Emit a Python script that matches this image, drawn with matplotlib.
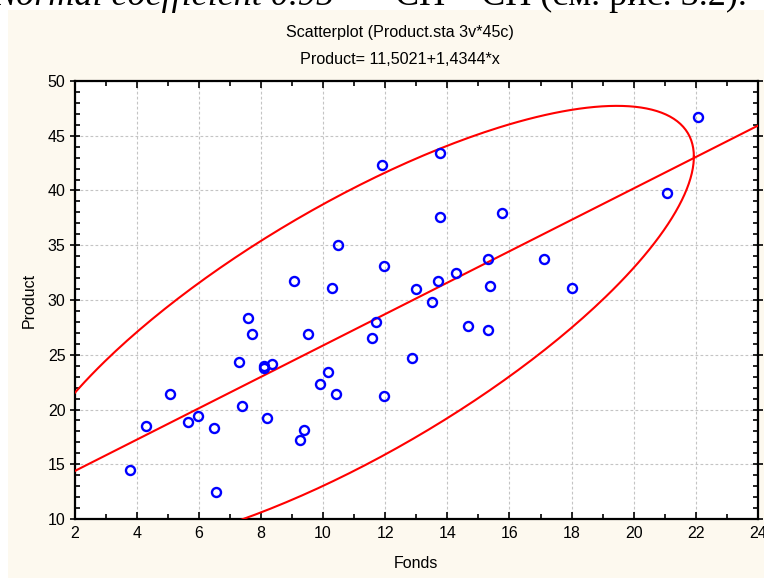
import numpy as np
import matplotlib
matplotlib.use("Agg")
import matplotlib.pyplot as plt
from matplotlib.patches import Rectangle
from matplotlib.ticker import MultipleLocator

# data (45 cases)
fonds = [3.78, 4.31, 5.08, 5.66, 5.99, 6.50, 6.56, 7.28, 7.40, 7.60,
         7.72, 8.09, 8.11, 8.37, 8.18, 9.26, 9.39, 9.52, 9.91, 10.16,
         10.42, 11.58, 11.71, 11.96, 12.85, 11.90, 10.48, 11.96, 9.08, 10.29,
         13.76, 22.06, 13.76, 15.77, 21.08, 15.31, 17.11, 14.28, 13.70, 12.99,
         13.50, 15.37, 18.00, 14.66, 15.31]
product = [14.5, 18.5, 21.45, 18.9, 19.45, 18.35, 12.5, 24.38, 20.36, 28.4,
           26.94, 24.0, 23.83, 24.2, 19.26, 17.25, 18.16, 26.94, 22.37, 23.46,
           21.45, 26.57, 28.03, 21.24, 24.74, 42.29, 34.98, 33.15, 31.69, 31.14,
           43.39, 46.68, 37.54, 37.9, 39.73, 33.7, 33.7, 32.45, 31.72, 30.96,
           29.86, 31.32, 31.14, 27.67, 27.3]

intercept = 11.5021
slope = 1.4344
coef = 0.95

x_ticks = [2, 4, 6, 8, 10, 12, 14, 16, 18, 20, 22, 24]
y_ticks = [10, 15, 20, 25, 30, 35, 40, 45, 50]

fig = plt.figure(figsize=(7.64, 5.78), dpi=100)
fig.patch.set_facecolor("white")
fig.patches.append(Rectangle((8 / 764, 0), 1, 1 - 10 / 578, transform=fig.transFigure,
                             facecolor="#fdf9ef", edgecolor="none", zorder=-5))

# cut-off line of text from the page above the chart
fig.text(-8 / 764, 1 - 5 / 578, "Normal coefficient 0.95", family="Liberation Serif",
         style="italic", fontsize=26, va="baseline", ha="left")
fig.text(368 / 764, 1 - 5 / 578, "\u2013 СП \u2013 СП (см. рис. 3.2).", family="Liberation Serif",
         fontsize=26, va="baseline", ha="left")

ax = fig.add_axes([74.5 / 764, 1 - 519 / 578, (758 - 74.5) / 764, (519 - 81) / 578])
ax.set_facecolor("white")

x = np.array(fonds)
y = np.array(product)
n = len(x)

# prediction ellipse (normal, coefficient 0.95), F-based scale
m = np.array([x.mean(), y.mean()])
S = np.cov(x, y)
L = np.linalg.cholesky(S)
k = n - 2
f_q = (k / 2) * ((1 - coef) ** (-2 / k) - 1)
c = 2 * (n - 1) * (n + 1) / (n * (n - 2)) * f_q
t = np.linspace(0, 2 * np.pi, 400)
pts = m[:, None] + np.sqrt(c) * L @ np.vstack([np.cos(t), np.sin(t)])
ax.plot(pts[0], pts[1], color="red", lw=1.5, zorder=3)

xx = np.array([x_ticks[0], x_ticks[-1]])
ax.plot(xx, intercept + slope * xx, color="red", lw=1.5, zorder=3)

ax.plot(x, y, "o", mfc="none", mec="#0000ff", mew=1.7, ms=6.5, zorder=4, clip_on=False)

ax.set_xlim(2, 24)
ax.set_ylim(10, 50)
ax.set_xticks(x_ticks)
ax.set_yticks(y_ticks)
ax.xaxis.set_minor_locator(MultipleLocator(1))
ax.yaxis.set_minor_locator(MultipleLocator(1))
ax.grid(True, which="major", color="#c4c4c4", ls=(0, (2.5, 2)), lw=0.8)
ax.set_axisbelow(True)

for s in ax.spines.values():
    s.set_linewidth(1.6)
ax.tick_params(which="both", direction="in", top=True, right=True, width=1.2, color="black")
ax.tick_params(which="major", length=5, labelsize=11.5, pad=5)
ax.tick_params(which="minor", length=3.5)
ax.tick_params(axis="y", which="major", direction="inout", length=7, pad=3)
for lb in ax.get_xticklabels() + ax.get_yticklabels():
    lb.set_family("Liberation Sans")

ax.set_xlabel("Fonds", family="Liberation Sans", fontsize=11.5, labelpad=11)
ax.set_ylabel("Product", family="Liberation Sans", fontsize=11.5, labelpad=8)

fig.text(400 / 764, 1 - 33 / 578, "Scatterplot (Product.sta 3v*45c)", family="Liberation Sans",
         fontsize=11.6, ha="center", va="center")
fig.text(400 / 764, 1 - 59 / 578, "Product= 11,5021+1,4344*x", family="Liberation Sans",
         fontsize=11.6, ha="center", va="center")

fig.savefig("out.png", dpi=100, facecolor=fig.get_facecolor())
